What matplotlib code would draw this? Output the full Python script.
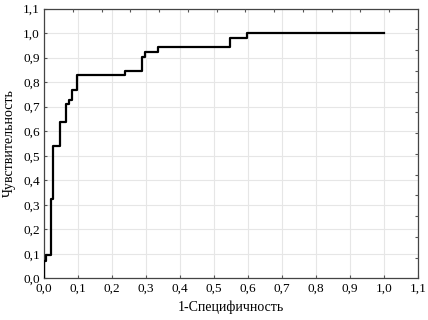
import matplotlib
matplotlib.use("Agg")
import matplotlib.pyplot as plt
from matplotlib.ticker import FixedLocator, FuncFormatter

# ROC curve corner points (step post)
fpr = [0.0, 0.0, 0.007, 0.020, 0.027, 0.046, 0.066, 0.074, 0.083, 0.097,
       0.238, 0.287, 0.297, 0.336, 0.546, 0.596, 1.0]
tpr = [0.0, 0.070, 0.094, 0.323, 0.538, 0.638, 0.712, 0.729, 0.769, 0.828,
       0.847, 0.903, 0.923, 0.944, 0.980, 1.0, 1.0]

ticks = [i / 10 for i in range(12)]
xlabel = "1-Специфичность"
ylabel = "Чувствительность"

plt.rcParams['font.family'] = ['Liberation Serif', 'DejaVu Serif']

fig = plt.figure(figsize=(4.28, 3.2), dpi=100)
ax = fig.add_axes([0.1028, 0.1297, 0.9766 - 0.1028, 0.9734 - 0.1297])

ax.plot(fpr, tpr, drawstyle='steps-post', color='black', lw=1.6, zorder=3)

ax.set_xlim(0, 1.1)
ax.set_ylim(0, 1.1)
ax.xaxis.set_major_locator(FixedLocator(ticks))
ax.yaxis.set_major_locator(FixedLocator(ticks))
fmt = FuncFormatter(lambda v, p: f"{v:.1f}".replace('.', ','))
ax.xaxis.set_major_formatter(fmt)
ax.yaxis.set_major_formatter(fmt)
ax.tick_params(axis='both', labelsize=9.5, length=2, direction='in', color='#555555', pad=3)
ax.grid(True, color='#e6e6e6', lw=0.8)
ax.set_axisbelow(True)

for s in ax.spines.values():
    s.set_color('#444444')
    s.set_linewidth(0.9)

ax.set_xlabel(xlabel, fontsize=10, labelpad=4)
ax.set_ylabel(ylabel, fontsize=10, labelpad=5)

# secondary top/right ticks (13 divisions)
axt = ax.twiny()
axt.set_xlim(0, 13)
axt.xaxis.set_major_locator(FixedLocator(list(range(1, 13))))
axt.tick_params(axis='x', direction='in', length=2, color='#555555', labeltop=False)
axr = ax.twinx()
axr.set_ylim(0, 13)
axr.yaxis.set_major_locator(FixedLocator(list(range(1, 13))))
axr.tick_params(axis='y', direction='in', length=2, color='#555555', labelright=False)
for a in (axt, axr):
    for s in a.spines.values():
        s.set_visible(False)

fig.savefig("out.png", dpi=100)
